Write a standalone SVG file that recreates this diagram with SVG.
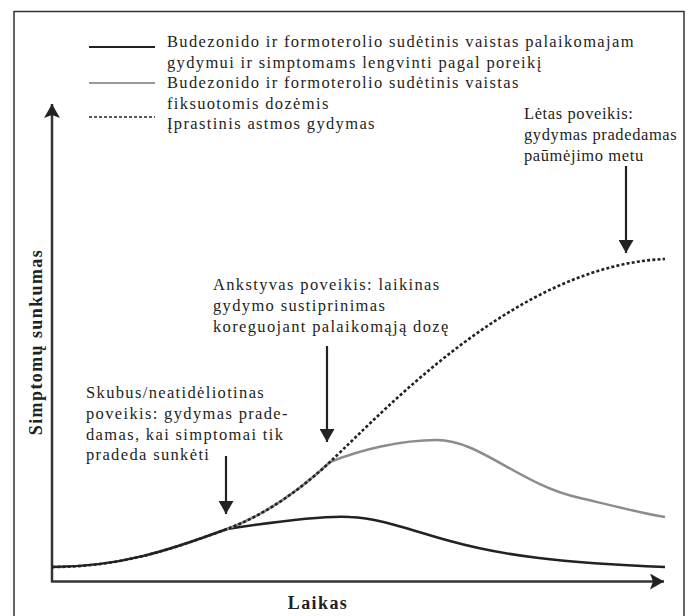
<svg xmlns="http://www.w3.org/2000/svg" width="690" height="616" viewBox="0 0 690 616">
  <defs>
    <marker id="head" viewBox="0 0 13 15" refX="13" refY="7.5" markerWidth="13" markerHeight="15" markerUnits="userSpaceOnUse" orient="auto">
      <path d="M0,0 L13,7.5 L0,15 z" fill="#222"/>
    </marker>
    <marker id="axhead" viewBox="0 0 14 16" refX="14" refY="8" markerWidth="14" markerHeight="16" markerUnits="userSpaceOnUse" orient="auto">
      <path d="M0,0 L14,8 L0,16 L3,8 z" fill="#222"/>
    </marker>
  </defs>
  <style>
    .t { font-family: "Liberation Serif", "Times New Roman", serif; font-size: 16.5px; letter-spacing: 1.35px; fill: #1e1e1e; }
    .tn { letter-spacing: 0.6px; }
    .lbl { font-family: "Liberation Serif", "Times New Roman", serif; font-size: 18px; font-weight: bold; letter-spacing: 1.4px; fill: #222; }
    .axis { stroke: #333; stroke-width: 2.5; fill: none; }
    .arr { stroke: #222; stroke-width: 2.2; fill: none; }
    .black { stroke: #222; stroke-width: 2.5; fill: none; }
    .gray { stroke: #8c8c8c; stroke-width: 2.5; fill: none; }
    .dot { stroke: #222; stroke-width: 2.6; fill: none; stroke-dasharray: 3 2.2; }
  </style>
  <rect x="0" y="0" width="690" height="616" fill="#ffffff"/>
  <rect x="14" y="11.5" width="670" height="620" fill="none" stroke="#333" stroke-width="1.5"/>

  <g id="legend">
    <line x1="89" y1="47" x2="155" y2="47" stroke="#222" stroke-width="2"/>
    <line x1="89" y1="83" x2="155" y2="83" stroke="#999" stroke-width="2"/>
    <line x1="89" y1="117" x2="155" y2="117" stroke="#222" stroke-width="1.6" stroke-dasharray="3 2"/>
    <text class="t" x="167" y="47">Budezonido ir formoterolio sudėtinis vaistas palaikomajam</text>
    <text class="t" x="167" y="67.5">gydymui ir simptomams lengvinti pagal poreikį</text>
    <text class="t" x="167" y="88">Budezonido ir formoterolio sudėtinis vaistas</text>
    <text class="t" x="167" y="108.5">fiksuotomis dozėmis</text>
    <text class="t" x="167" y="129">Įprastinis astmos gydymas</text>
  </g>

  <g id="axes">
    <line class="axis" x1="52" y1="582" x2="52" y2="104" marker-end="url(#axhead)"/>
    <line class="axis" x1="51" y1="581.5" x2="664" y2="581.5" marker-end="url(#axhead)"/>
    <text class="lbl" transform="translate(42,342) rotate(-90)" text-anchor="middle">Simptomų sunkumas</text>
    <text class="lbl" x="318" y="609" text-anchor="middle">Laikas</text>
  </g>

  <g id="curves">
    <path id="curve-black" class="black" d="M52,567 C120,567 170,550 227,529 C260,524 320,515 350,517 C380,518 410,530 450,541 C500,555 560,563 665,567"/>
    <path id="curve-gray" class="gray" d="M227,529 C265,515 300,490 330,462 C360,450 400,440 437,440 C480,440 520,485 580,498 C610,505 640,513 665,517"/>
    <path id="curve-dotted" class="dot" d="M52,567 C120,567 170,550 227,529 C265,515 300,490 330,462 C390,405 520,265 665,259"/>
  </g>

  <g id="note-slow">
    <text class="t tn" x="524" y="119">Lėtas poveikis:</text>
    <text class="t tn" x="524" y="140">gydymas pradedamas</text>
    <text class="t tn" x="524" y="161">paūmėjimo metu</text>
    <line class="arr" x1="626" y1="166" x2="626" y2="253" marker-end="url(#head)"/>
  </g>

  <g id="note-early">
    <text class="t" x="213" y="290">Ankstyvas poveikis: laikinas</text>
    <text class="t" x="213" y="311">gydymo sustiprinimas</text>
    <text class="t" x="213" y="332">koreguojant palaikomąją dozę</text>
    <line class="arr" x1="327" y1="346" x2="327" y2="442" marker-end="url(#head)"/>
  </g>

  <g id="note-urgent">
    <text class="t" x="86" y="398">Skubus/neatidėliotinas</text>
    <text class="t" x="86" y="419">poveikis: gydymas prade-</text>
    <text class="t" x="86" y="440">damas, kai simptomai tik</text>
    <text class="t" x="86" y="460">pradeda sunkėti</text>
    <line class="arr" x1="226" y1="456" x2="226" y2="514" marker-end="url(#head)"/>
  </g>
</svg>
